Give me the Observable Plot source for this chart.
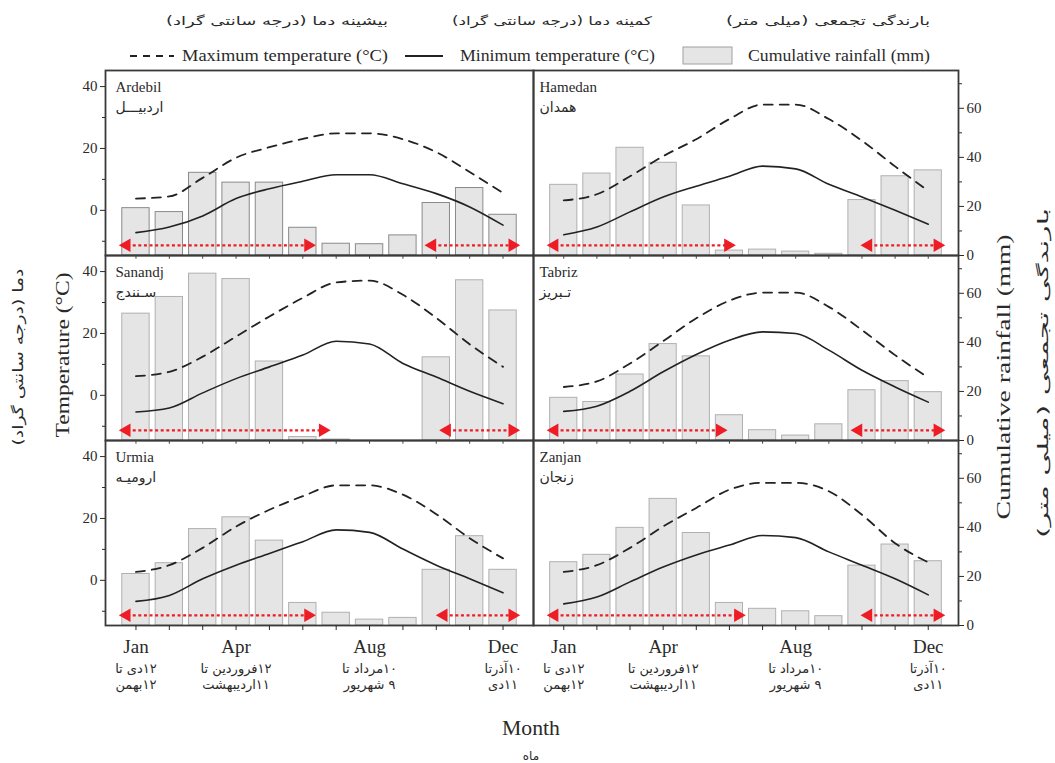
<!DOCTYPE html>
<html><head><meta charset="utf-8">
<script src="https://cdn.jsdelivr.net/npm/d3@7"></script>
<script src="https://cdn.jsdelivr.net/npm/@observablehq/plot@0.6"></script>
<style>
body{margin:0;background:#fff;}
#fig{position:relative;width:1055px;height:763px;overflow:hidden;background:#fff;}
</style></head><body><div id="fig"></div>
<script>
// ---------------- DATA ----------------
const months = [1,2,3,4,5,6,7,8,9,10,11,12];
const tickMonths = [1,4,8,12];
const tickLabels = ["Jan","Apr","Aug","Dec"];
const tickLabelsFa1 = ["۱۲دی تا","۱۲فروردین تا","۱۰مرداد تا","۱۰آذرتا"];
const tickLabelsFa2 = ["۱۲بهمن","۱۱اردیبهشت","۹ شهریور","۱۱دی"];

const stationNames = ["Ardebil","Hamedan","Sanandj","Tabriz","Urmia","Zanjan"];
const stationNamesFa = ["اردبیـــل","همدان","سـنندج","تـبریز","ارومیـه","زنجان"];

const ardebilRain = [19.3,17.7,33.7,29.7,29.7,11.3,4.8,4.6,8.2,21.4,27.5,16.6];
const ardebilTmax = [3.8,4.5,10.5,17.0,20.4,23.1,24.9,24.9,23.0,18.8,12.4,5.6];
const ardebilTmin = [-7.2,-5.4,-1.8,3.8,7.0,9.4,11.5,11.5,8.6,5.4,1.1,-4.8];
const ardebilSpans = [[0.6,6.28],[9.76,12.4]];

const hamedanRain = [28.8,33.4,43.9,37.8,20.4,2.0,2.4,1.6,0.7,22.6,32.3,34.7];
const hamedanTmax = [3.2,5.2,11.0,17.5,23.0,29.5,34.2,34.2,29.5,22.5,14.2,6.3];
const hamedanTmin = [-7.9,-5.4,-0.5,4.3,7.8,11.0,14.3,13.4,8.4,4.3,0.0,-4.5];
const hamedanSpans = [[0.6,6.08],[10.07,12.4]];

const sanandajRain = [51.7,58.5,68.0,65.8,32.2,1.4,0.4,0,0,33.9,65.3,53.0];
const sanandajTmax = [6.2,7.6,12.5,19.0,25.5,31.5,36.5,37.1,32.5,25.0,16.5,9.2];
const sanandajTmin = [-5.4,-4.1,0.8,5.4,9.2,13.0,17.5,16.6,10.3,5.9,1.3,-2.7];
const sanandajSpans = [[0.6,6.72],[10.2,12.4]];

const tabrizRain = [17.4,15.7,26.9,39.3,34.3,10.3,4.2,2.0,6.6,20.5,24.2,19.7];
const tabrizTmax = [2.7,4.5,10.3,17.5,24.9,30.6,33.2,33.2,28.6,21.1,13.0,5.7];
const tabrizTmin = [-5.2,-3.5,1.3,7.6,13.2,17.8,20.5,20.0,14.6,8.1,2.7,-2.2];
const tabrizSpans = [[0.6,5.83],[9.77,12.4]];

const urmiaRain = [21.0,25.4,39.3,44.1,34.6,9.2,5.2,2.4,3.1,22.7,36.4,22.7];
const urmiaTmax = [2.7,4.9,10.5,17.4,22.8,27.2,30.7,30.7,27.7,21.4,13.6,7.1];
const urmiaTmin = [-6.8,-4.9,0.5,4.9,8.7,12.5,16.3,15.5,10.1,4.9,0.5,-4.0];
const urmiaSpans = [[0.6,6.28],[10.1,12.4]];

const zanjanRain = [25.8,28.8,39.8,51.6,37.7,9.2,6.8,5.8,3.8,24.4,33.0,26.2];
const zanjanTmax = [2.7,4.9,10.5,17.4,23.4,29.3,31.5,31.5,28.8,21.2,12.0,5.8];
const zanjanTmin = [-7.6,-5.4,-0.5,4.3,8.2,11.4,14.5,13.8,9.2,4.9,0.5,-4.7];
const zanjanSpans = [[0.6,6.38],[10.07,12.4]];

const tempMajorTicks = [0,20,40];
const tempMinorTicks = [-10,10,30];
const rainMajorTicks = [0,20,40,60];
const rainMinorTicks = [10,30,50,70];

// ---------------- LAYOUT ----------------
const SERIF = "Liberation Serif, Times New Roman, serif";
const FA = "DejaVu Sans, Noto Sans, sans-serif";
const INK = "#2a2a2a";
const rtl = s => "\u200F" + s + "\u200F";

const panels = [
  {name:stationNames[0], fa:stationNamesFa[0], rain:ardebilRain, tmax:ardebilTmax, tmin:ardebilTmin, spans:ardebilSpans, col:0, row:0},
  {name:stationNames[1], fa:stationNamesFa[1], rain:hamedanRain, tmax:hamedanTmax, tmin:hamedanTmin, spans:hamedanSpans, col:1, row:0},
  {name:stationNames[2], fa:stationNamesFa[2], rain:sanandajRain, tmax:sanandajTmax, tmin:sanandajTmin, spans:sanandajSpans, col:0, row:1},
  {name:stationNames[3], fa:stationNamesFa[3], rain:tabrizRain, tmax:tabrizTmax, tmin:tabrizTmin, spans:tabrizSpans, col:1, row:1},
  {name:stationNames[4], fa:stationNamesFa[4], rain:urmiaRain, tmax:urmiaTmax, tmin:urmiaTmin, spans:urmiaSpans, col:0, row:2},
  {name:stationNames[5], fa:stationNamesFa[5], rain:zanjanRain, tmax:zanjanTmax, tmin:zanjanTmin, spans:zanjanSpans, col:1, row:2}
];

const colX = [105, 533], colW = [428, 425];
const rowY = [70, 255, 440], rowH = 185;
const tempDomain = [-14.6, 45.2], rainDomain = [0, 75.4], xDomain = [0.087, 12.913];
const fig = document.getElementById("fig");

function place(node, left, top, w, h) {
  const d = document.createElement("div");
  d.style.cssText = `position:absolute;left:${left}px;top:${top}px;width:${w}px;height:${h}px;`;
  d.appendChild(node);
  fig.appendChild(d);
}

function drawPanel(p) {
  const mL = 50, mR = 50, mT = 6, mB = p.row === 2 ? 80 : 6;
  const W = colW[p.col] + mL + mR, H = rowH + mT + mB;
  const data = months.map((m, i) => ({m, rain: p.rain[i], tmax: p.tmax[i], tmin: p.tmin[i]}));
  const common = {
    width: W, height: H, marginLeft: mL, marginRight: mR, marginTop: mT, marginBottom: mB,
    style: {background: "transparent", overflow: "visible", fontFamily: SERIF, fontSize: "15px", color: INK}
  };
  // back layer: rainfall bars on their own scale
  const backMarks = [
    Plot.rectY(data, {x1: d => d.m - 0.41, x2: d => d.m + 0.41, y: "rain",
      fill: "#e5e5e5", stroke: p.row === 0 && p.col === 0 ? "#8a8a8a" : "#b0b0b0", strokeWidth: 1})
  ];
  const rightAxis = p.col === 1;
  if (rightAxis) {
    backMarks.push(Plot.axisY({anchor: "right", ticks: rainMajorTicks, tickSize: 5, tickPadding: 3, label: null, fontSize: 15}));
    backMarks.push(Plot.axisY({anchor: "right", ticks: rainMinorTicks, tickSize: 3, tickFormat: () => "", label: null}));
  }
  const back = Plot.plot({...common,
    x: {type: "linear", domain: xDomain, axis: null},
    y: rightAxis ? {type: "linear", domain: rainDomain} : {type: "linear", domain: rainDomain, axis: null},
    marks: backMarks});
  place(back, colX[p.col] - mL, rowY[p.row] - mT, W, H);

  // front layer: temperatures, arrows, labels, frame
  const arrowY = tempDomain[0] + 3.3;
  const spans = p.spans.map(([a, b]) => ({a, b}));
  const frontMarks = [
    Plot.line(data, {x: "m", y: "tmax", stroke: "#222", strokeWidth: 1.8, strokeDasharray: "9,7", curve: "monotone-x"}),
    Plot.line(data, {x: "m", y: "tmin", stroke: "#222", strokeWidth: 1.6, curve: "monotone-x"}),
    Plot.ruleY(spans, {x1: d => d.a + 0.15, x2: d => d.b - 0.15, y: () => arrowY, stroke: "#ee1c25", strokeWidth: 2.2, strokeDasharray: "3,2.6"}),
    Plot.dot(spans, {x: "a", y: () => arrowY, symbol: "triangle", r: 5, fill: "#ee1c25", stroke: "none", rotate: -90, dx: 4}),
    Plot.dot(spans, {x: "b", y: () => arrowY, symbol: "triangle", r: 5, fill: "#ee1c25", stroke: "none", rotate: 90, dx: -4}),
    Plot.text([p.name], {text: d => d, frameAnchor: "top-left", dx: p.col === 0 ? 10 : 6, dy: 11, lineAnchor: "top", fontSize: 15, fill: INK, fontFamily: SERIF}),
    Plot.text([rtl(p.fa)], {text: d => d, frameAnchor: "top-left", dx: p.col === 0 ? 10 : 6, dy: 32, lineAnchor: "top", fontSize: 14, fill: INK, fontFamily: FA}),
    Plot.frame({stroke: "#3a3a3a", strokeWidth: 1.8})
  ];
  if (p.row > 0) {
    frontMarks.push(Plot.ruleX(months, {x: d => d, y1: () => tempDomain[1], y2: () => tempDomain[1] - 1.2, stroke: "#444", strokeWidth: 1}));
  }
  const leftAxis = p.col === 0;
  if (leftAxis) {
    frontMarks.push(Plot.axisY({anchor: "left", ticks: tempMajorTicks, tickSize: 5, tickPadding: 3, label: null, fontSize: 15}));
    frontMarks.push(Plot.axisY({anchor: "left", ticks: tempMinorTicks, tickSize: 3, tickFormat: () => "", label: null}));
  }
  const bottomAxis = p.row === 2;
  if (bottomAxis) {
    const lab = tickMonths.map((m, i) => ({m, en: tickLabels[i], fa1: rtl(tickLabelsFa1[i]), fa2: rtl(tickLabelsFa2[i])}));
    frontMarks.push(Plot.axisX({anchor: "bottom", ticks: months, tickSize: 5, tickFormat: () => "", label: null}));
    frontMarks.push(Plot.text(lab, {x: "m", text: "en", frameAnchor: "bottom", lineAnchor: "top", dy: 14, fontSize: 19, fill: INK, fontFamily: SERIF}));
    frontMarks.push(Plot.text(lab, {x: "m", text: "fa1", frameAnchor: "bottom", lineAnchor: "top", dy: 38, fontSize: 13, fill: INK, fontFamily: FA}));
    frontMarks.push(Plot.text(lab, {x: "m", text: "fa2", frameAnchor: "bottom", lineAnchor: "top", dy: 54, fontSize: 13, fill: INK, fontFamily: FA}));
  }
  const front = Plot.plot({...common,
    x: bottomAxis ? {type: "linear", domain: xDomain} : {type: "linear", domain: xDomain, axis: null},
    y: leftAxis ? {type: "linear", domain: tempDomain} : {type: "linear", domain: tempDomain, axis: null},
    marks: frontMarks});
  place(front, colX[p.col] - mL, rowY[p.row] - mT, W, H);
}

panels.forEach(drawPanel);

// ---------------- LEGEND & TITLES ----------------
const ov = d3.create("svg").attr("width", 1055).attr("height", 763)
  .style("position", "absolute").style("left", "0px").style("top", "0px").style("overflow", "visible");
function txt(x, y, s, o = {}) {
  const g = ov.append("g").attr("transform", `translate(${x},${y}) rotate(${o.rot || 0})`);
  const t = g.append("text")
    .attr("text-anchor", o.anchor || "start")
    .attr("font-family", o.family || SERIF)
    .attr("font-size", o.size || 16)
    .attr("fill", INK)
    .text(o.rtl ? rtl(s) : s);
  if (o.central) t.attr("dominant-baseline", "central");
  if (o.len) t.attr("textLength", o.len).attr("lengthAdjust", "spacingAndGlyphs");
  return t;
}
// legend
ov.append("line").attr("x1", 130).attr("x2", 174).attr("y1", 56).attr("y2", 56)
  .attr("stroke", "#222").attr("stroke-width", 1.8).attr("stroke-dasharray", "7,6");
ov.append("line").attr("x1", 405).attr("x2", 443).attr("y1", 56).attr("y2", 56)
  .attr("stroke", "#222").attr("stroke-width", 1.8);
ov.append("rect").attr("x", 683).attr("y", 47).attr("width", 49).attr("height", 17)
  .attr("fill", "#e5e5e5").attr("stroke", "#a0a0a0");
txt(182, 61, "Maximum temperature (°C)", {size: 16, len: 206});
txt(460, 61, "Minimum temperature (°C)", {size: 16, len: 195});
txt(748, 61, "Cumulative rainfall (mm)", {size: 16, len: 182});
txt(277, 25, "بیشینه دما (درجه سانتی گراد)", {size: 12, family: FA, anchor: "middle", rtl: true, len: 222});
txt(552, 25, "کمینه دما (درجه سانتی گراد)", {size: 12, family: FA, anchor: "middle", rtl: true, len: 200});
txt(828, 25, "بارندگی تجمعی (میلی متر)", {size: 12, family: FA, anchor: "middle", rtl: true, len: 204});
// axis titles
txt(62, 355, "Temperature (°C)", {size: 19, rot: -90, anchor: "middle", central: true, len: 165});
txt(18, 357, "دما (درجه سانتی گراد)", {size: 14, family: FA, rot: -90, anchor: "middle", central: true, rtl: true, len: 177});
txt(1003, 377, "Cumulative rainfall (mm)", {size: 19, rot: -90, anchor: "middle", central: true, len: 285});
txt(1043, 373, "بارندگی تجمعی (میلی متر)", {size: 14, family: FA, rot: -90, anchor: "middle", central: true, rtl: true, len: 330});
txt(531, 735, "Month", {size: 21, anchor: "middle", len: 58});
txt(531, 760, "ماه", {size: 12, family: FA, anchor: "middle", rtl: true});
fig.appendChild(ov.node());
</script>
</body></html>
